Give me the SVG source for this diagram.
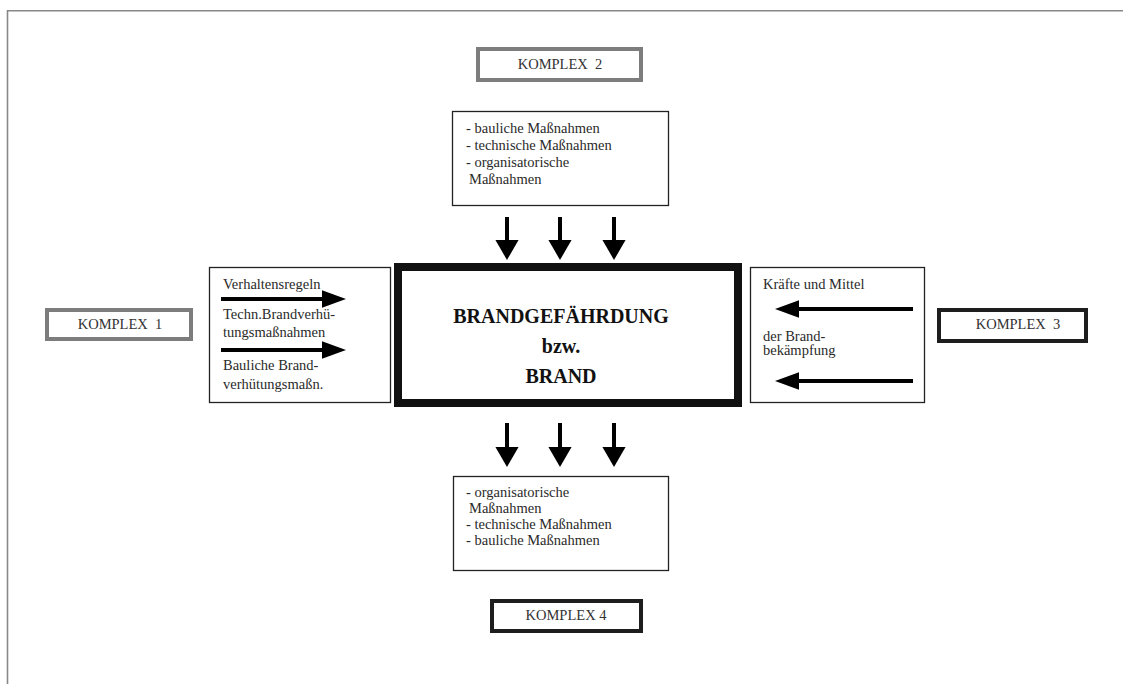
<svg xmlns="http://www.w3.org/2000/svg" width="1123" height="684" viewBox="0 0 1123 684">
<defs>
<style>
.t{font-family:"Liberation Serif","Times New Roman",serif;font-size:14.5px;fill:#2a2a2a}
.b{font-family:"Liberation Serif","Times New Roman",serif;font-size:20px;font-weight:bold;fill:#111;text-anchor:middle}
.k{font-family:"Liberation Serif","Times New Roman",serif;font-size:14.5px;fill:#333;text-anchor:middle}
.thin{fill:#fff;stroke:#222;stroke-width:1.3}
.kg{fill:#fff;stroke:#7d7d7d;stroke-width:4}
.kb{fill:#fff;stroke:#1e1e1e;stroke-width:4}
.sh{stroke:#000;stroke-width:4;fill:none}
</style>
<marker id="hd" markerUnits="userSpaceOnUse" markerWidth="20" markerHeight="24" refX="0" refY="11" orient="auto" viewBox="0 0 19 22">
<path d="M0,0 L19,11 L0,22 z" fill="#000"/>
</marker>
<marker id="hs" markerUnits="userSpaceOnUse" markerWidth="24" markerHeight="18" refX="0" refY="8" orient="auto" viewBox="0 0 22 16">
<path d="M0,0 L22,8 L0,16 z" fill="#000"/>
</marker>
</defs>
<rect width="1123" height="684" fill="#fff"/>
<g id="frame" fill="none" stroke="#888" stroke-width="1.6">
<path d="M7.5,684 V10.8 H1123"/>
</g>
<g id="komplex2"><rect class="kg" x="478" y="49" width="163" height="31"/><text class="k" x="560" y="69" xml:space="preserve">KOMPLEX  2</text></g>
<g id="massnahmen-oben"><rect class="thin" x="452.5" y="111.5" width="216" height="94"/>
<text class="t" x="466" y="133">- bauliche Maßnahmen</text>
<text class="t" x="466" y="150">- technische Maßnahmen</text>
<text class="t" x="466" y="167">- organisatorische</text>
<text class="t" x="469" y="184">Maßnahmen</text></g>
<g id="brand"><rect x="398" y="267" width="340" height="136" fill="#fff" stroke="#111" stroke-width="8"/>
<text class="b" x="561" y="323">BRANDGEFÄHRDUNG</text>
<text class="b" x="561" y="353">bzw.</text>
<text class="b" x="561" y="383">BRAND</text></g>
<g id="komplex1"><rect class="kg" x="47" y="310" width="144" height="29"/><text class="k" x="120" y="329" xml:space="preserve">KOMPLEX  1</text></g>
<g id="massnahmen-links"><rect class="thin" x="209.5" y="267.5" width="181" height="135"/>
<text class="t" x="223" y="289">Verhaltensregeln</text>
<text class="t" x="223" y="319">Techn.Brandverhü-</text>
<text class="t" x="223" y="337">tungsmaßnahmen</text>
<text class="t" x="223" y="370">Bauliche Brand-</text>
<text class="t" x="223" y="389">verhütungsmaßn.</text></g>
<g id="komplex3"><rect class="kb" x="939" y="310" width="147" height="31"/><text class="k" x="1018" y="329" xml:space="preserve">KOMPLEX  3</text></g>
<g id="massnahmen-rechts"><rect class="thin" x="750.5" y="267.5" width="174" height="135"/>
<text class="t" x="763" y="289">Kräfte und Mittel</text>
<text class="t" x="763" y="341">der Brand-</text>
<text class="t" x="763" y="355">bekämpfung</text></g>
<g id="massnahmen-unten"><rect class="thin" x="453.5" y="476.5" width="215" height="94"/>
<text class="t" x="466" y="497">- organisatorische</text>
<text class="t" x="469" y="513">Maßnahmen</text>
<text class="t" x="466" y="529">- technische Maßnahmen</text>
<text class="t" x="466" y="545">- bauliche Maßnahmen</text></g>
<g id="komplex4"><rect class="kb" x="492" y="601" width="149" height="30"/><text class="k" x="566" y="620">KOMPLEX 4</text></g>
<g id="connectors">
<line class="sh" x1="507" y1="217" x2="507" y2="240" marker-end="url(#hd)"/>
<line class="sh" x1="560" y1="217" x2="560" y2="240" marker-end="url(#hd)"/>
<line class="sh" x1="614" y1="217" x2="614" y2="240" marker-end="url(#hd)"/>
<line class="sh" x1="507" y1="423" x2="507" y2="447" marker-end="url(#hd)"/>
<line class="sh" x1="560" y1="423" x2="560" y2="447" marker-end="url(#hd)"/>
<line class="sh" x1="614" y1="423" x2="614" y2="447" marker-end="url(#hd)"/>
<line class="sh" x1="221" y1="299" x2="322" y2="299" marker-end="url(#hs)"/>
<line class="sh" x1="221" y1="350" x2="322" y2="350" marker-end="url(#hs)"/>
<line class="sh" x1="913" y1="309" x2="799" y2="309" marker-end="url(#hs)"/>
<line class="sh" x1="913" y1="381" x2="799" y2="381" marker-end="url(#hs)"/>
</g>
</svg>
